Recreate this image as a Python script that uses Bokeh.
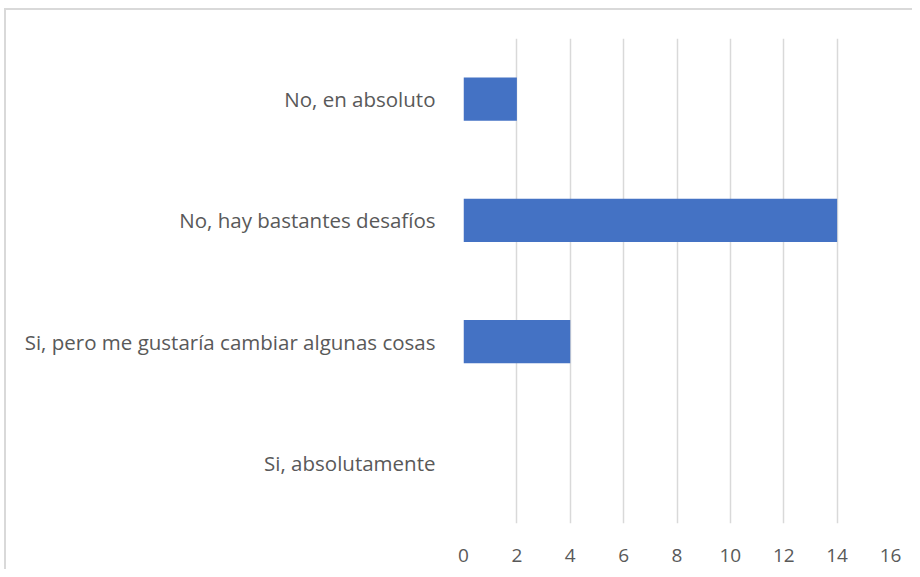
from bokeh.plotting import figure
from bokeh.models import FactorRange, Range1d, FixedTicker
from bokeh.embed import file_html
from bokeh.resources import INLINE

categories = ["Si, absolutamente",
              "Si, pero me gustaría cambiar algunas cosas",
              "No, hay bastantes desafíos",
              "No, en absoluto"]
values = [0, 4, 14, 2]
x_ticks = [0, 2, 4, 6, 8, 10, 12, 14, 16]

FONT = "Open Sans"
TEXT_COLOR = "#595959"

p = figure(width=912, height=569, output_backend="svg", toolbar_location=None,
           y_range=FactorRange(factors=categories, range_padding=0),
           x_range=Range1d(0, 16))
p.min_border_left = 463
p.min_border_right = 22
p.min_border_top = 38
p.min_border_bottom = 46
p.outline_line_color = None
p.background_fill_color = "white"
p.border_fill_color = None
p.styles = {
    "background": ("linear-gradient(#d9d9d9,#d9d9d9) 4px 8px / 100% 2px no-repeat, "
                   "linear-gradient(#d9d9d9,#d9d9d9) 4px 8px / 2px 100% no-repeat, white"),
}

p.hbar(y=categories, right=values, left=0, height=0.355, color="#4472C4", line_color=None)

p.xaxis.ticker = FixedTicker(ticks=x_ticks)
for ax in (p.xaxis[0], p.yaxis[0]):
    ax.axis_line_color = None
    ax.major_tick_line_color = None
    ax.minor_tick_line_color = None
    ax.major_label_text_font = FONT
    ax.major_label_text_color = TEXT_COLOR
p.yaxis.major_label_text_font_size = "20.5px"
p.xaxis.major_label_text_font_size = "19px"
p.xaxis.major_label_standoff = 19
p.yaxis.major_label_standoff = 22

p.xgrid.grid_line_color = "#d9d9d9"
p.xgrid.grid_line_width = 1.5
p.ygrid.grid_line_color = None

open("out.html", "w").write(file_html(p, INLINE))
